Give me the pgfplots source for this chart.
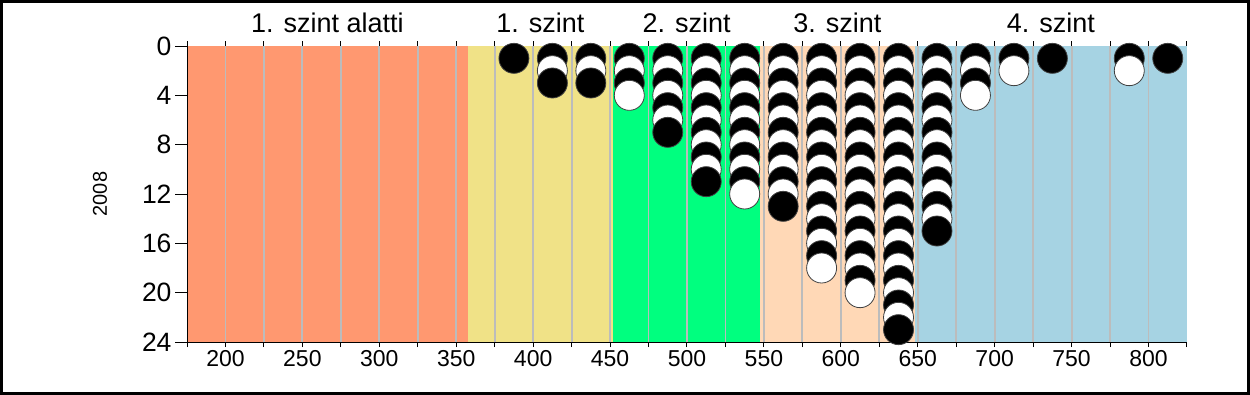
\documentclass[border=0pt]{standalone}
\usepackage{pgfplots}
\pgfplotsset{compat=1.18}
\usepackage{fontspec}
\setmainfont{Liberation Sans}
\definecolor{cSalmon}{RGB}{255,152,112}
\definecolor{cKhaki}{RGB}{240,226,135}
\definecolor{cGreen}{RGB}{0,255,127}
\definecolor{cPeach}{RGB}{255,216,182}
\definecolor{cBlue}{RGB}{166,211,227}
\definecolor{cGrid}{RGB}{188,188,188}
\begin{document}
\begin{tikzpicture}
\useasboundingbox (0,0) rectangle (1250bp,395bp);
\begin{axis}[
  at={(187bp,53bp)}, anchor=south west,
  scale only axis, width=1000bp, height=296bp,
  xmin=175, xmax=825, ymin=0, ymax=24, y dir=reverse,
  clip=false,
  axis line style={black, line width=1bp},
  xtick={200,250,...,800},
  minor xtick={175,225,...,825},
  ytick=\empty,
  xtick pos=both,
  tick align=outside,
  major tick length=5bp, minor tick length=5bp,
  every tick/.style={black, line width=1bp},
  /pgf/number format/assume math mode=true,
  xticklabel style={font=\fontsize{23bp}{27bp}\selectfont},
  xticklabel pos=lower,
]
\addplot[fill=cSalmon, draw=none] coordinates {(175,24) (357.5,24)} \closedcycle;
\addplot[fill=cKhaki, draw=none] coordinates {(357.5,24) (452,24)} \closedcycle;
\addplot[fill=cGreen, draw=none] coordinates {(452,24) (547.5,24)} \closedcycle;
\addplot[fill=cPeach, draw=none] coordinates {(547.5,24) (648,24)} \closedcycle;
\addplot[fill=cBlue, draw=none] coordinates {(648,24) (825,24)} \closedcycle;
\addplot[ycomb, no markers, color=cGrid, line width=1.8bp] coordinates {
(200,24)(225,24)(250,24)(275,24)(300,24)(325,24)(350,24)(375,24)(400,24)(425,24)
(450,24)(475,24)(500,24)(525,24)(550,24)(575,24)(600,24)(625,24)(650,24)(675,24)
(700,24)(725,24)(750,24)(775,24)(800,24)};
\addplot[only marks, mark=*, mark size=15bp,
  scatter, scatter src=explicit symbolic,
  scatter/classes={
    b={mark=*, fill=black, draw=black!75, line width=0.8bp},
    w={mark=*, fill=white, draw=black!75, line width=0.8bp}}]
  table[row sep=\\, x=x, y=y, meta=c] {
x y c\\
387.5 1 b\\
412.5 1 b\\ 412.5 2 w\\ 412.5 3 b\\
437.5 1 b\\ 437.5 2 w\\ 437.5 3 b\\
462.5 1 b\\ 462.5 2 w\\ 462.5 3 b\\ 462.5 4 w\\
487.5 1 b\\ 487.5 2 w\\ 487.5 3 b\\ 487.5 4 w\\ 487.5 5 b\\ 487.5 6 w\\ 487.5 7 b\\
512.5 1 b\\ 512.5 2 w\\ 512.5 3 b\\ 512.5 4 w\\ 512.5 5 b\\ 512.5 6 w\\ 512.5 7 b\\ 512.5 8 w\\ 512.5 9 b\\ 512.5 10 w\\ 512.5 11 b\\
537.5 1 b\\ 537.5 2 w\\ 537.5 3 b\\ 537.5 4 w\\ 537.5 5 b\\ 537.5 6 w\\ 537.5 7 b\\ 537.5 8 w\\ 537.5 9 b\\ 537.5 10 w\\ 537.5 11 b\\ 537.5 12 w\\
562.5 1 b\\ 562.5 2 w\\ 562.5 3 b\\ 562.5 4 w\\ 562.5 5 b\\ 562.5 6 w\\ 562.5 7 b\\ 562.5 8 w\\ 562.5 9 b\\ 562.5 10 w\\ 562.5 11 b\\ 562.5 12 w\\ 562.5 13 b\\
587.5 1 b\\ 587.5 2 w\\ 587.5 3 b\\ 587.5 4 w\\ 587.5 5 b\\ 587.5 6 w\\ 587.5 7 b\\ 587.5 8 w\\ 587.5 9 b\\ 587.5 10 w\\ 587.5 11 b\\ 587.5 12 w\\ 587.5 13 b\\ 587.5 14 w\\ 587.5 15 b\\ 587.5 16 w\\ 587.5 17 b\\ 587.5 18 w\\
612.5 1 b\\ 612.5 2 w\\ 612.5 3 b\\ 612.5 4 w\\ 612.5 5 b\\ 612.5 6 w\\ 612.5 7 b\\ 612.5 8 w\\ 612.5 9 b\\ 612.5 10 w\\ 612.5 11 b\\ 612.5 12 w\\ 612.5 13 b\\ 612.5 14 w\\ 612.5 15 b\\ 612.5 16 w\\ 612.5 17 b\\ 612.5 18 w\\ 612.5 19 b\\ 612.5 20 w\\
637.5 1 b\\ 637.5 2 w\\ 637.5 3 b\\ 637.5 4 w\\ 637.5 5 b\\ 637.5 6 w\\ 637.5 7 b\\ 637.5 8 w\\ 637.5 9 b\\ 637.5 10 w\\ 637.5 11 b\\ 637.5 12 w\\ 637.5 13 b\\ 637.5 14 w\\ 637.5 15 b\\ 637.5 16 w\\ 637.5 17 b\\ 637.5 18 w\\ 637.5 19 b\\ 637.5 20 w\\ 637.5 21 b\\ 637.5 22 w\\ 637.5 23 b\\
662.5 1 b\\ 662.5 2 w\\ 662.5 3 b\\ 662.5 4 w\\ 662.5 5 b\\ 662.5 6 w\\ 662.5 7 b\\ 662.5 8 w\\ 662.5 9 b\\ 662.5 10 w\\ 662.5 11 b\\ 662.5 12 w\\ 662.5 13 b\\ 662.5 14 w\\ 662.5 15 b\\
687.5 1 b\\ 687.5 2 w\\ 687.5 3 b\\ 687.5 4 w\\
712.5 1 b\\ 712.5 2 w\\
737.5 1 b\\
787.5 1 b\\ 787.5 2 w\\
812.5 1 b\\
};
\node[font=\fontsize{27bp}{31bp}\selectfont, anchor=base, yshift=14bp] at (axis cs:266.25,0) {1. szint alatti};
\node[font=\fontsize{27bp}{31bp}\selectfont, anchor=base, yshift=14bp] at (axis cs:404.75,0) {1. szint};
\node[font=\fontsize{27bp}{31bp}\selectfont, anchor=base, yshift=14bp] at (axis cs:499.75,0) {2. szint};
\node[font=\fontsize{27bp}{31bp}\selectfont, anchor=base, yshift=14bp] at (axis cs:597.75,0) {3. szint};
\node[font=\fontsize{27bp}{31bp}\selectfont, anchor=base, yshift=14bp] at (axis cs:736.5,0) {4. szint};
\end{axis}
\begin{axis}[
  at={(187bp,53bp)}, anchor=south west,
  scale only axis, width=1000bp, height=296bp,
  xmin=175, xmax=825, ymin=0, ymax=24, y dir=reverse,
  hide x axis, axis y line*=left,
  axis line style={black, line width=1bp, -},
  ytick={0,4,...,24},
  tick align=outside,
  major tick length=12bp,
  every tick/.style={black, line width=1bp},
  /pgf/number format/assume math mode=true,
  yticklabel style={font=\fontsize{26.5bp}{30bp}\selectfont},
  ylabel={2008},
  ylabel style={font=\fontsize{20bp}{24bp}\selectfont, at={(axis description cs:-0.087,0.5)}, anchor=center},
]
\addplot[draw=none] coordinates {(175,0)};
\end{axis}
\draw[black, line width=3bp] (1.5bp,1.5bp) rectangle (1248.5bp,393.5bp);
\end{tikzpicture}
\end{document}
